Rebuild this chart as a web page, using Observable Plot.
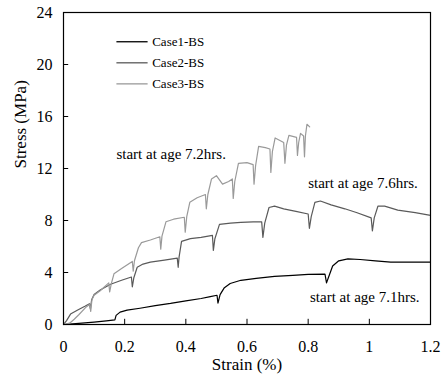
<!DOCTYPE html>
<html><head><meta charset="utf-8">
<script src="https://cdn.jsdelivr.net/npm/d3@7"></script>
<script src="https://cdn.jsdelivr.net/npm/@observablehq/plot@0.6"></script>
<style>
body{margin:0;background:#fff}
svg, svg text { font-family: "Liberation Serif", "Times New Roman", serif !important; }
</style>
</head><body><div id="chart"></div>
<script>
const xTicks = [0, 0.2, 0.4, 0.6, 0.8, 1, 1.2];
const yTicks = [0, 4, 8, 12, 16, 20, 24];
const seriesNames = ["Case1-BS", "Case2-BS", "Case3-BS"];
const seriesColors = ["#000000", "#5a5a5a", "#9a9a9a"];
const xLabel = "Strain (%)";
const yLabel = "Stress (MPa)";

// [strain %, stress MPa]
const case1 = [[0,0],[0.05,0.08],[0.10,0.18],[0.14,0.28],[0.168,0.36],[0.172,0.7],[0.185,0.95],[0.208,1.1],[0.25,1.25],[0.30,1.45],[0.35,1.62],[0.40,1.82],[0.45,2.0],[0.48,2.15],[0.502,2.25],[0.505,1.65],[0.512,2.3],[0.525,2.8],[0.545,3.15],[0.58,3.4],[0.63,3.55],[0.69,3.7],[0.75,3.78],[0.80,3.85],[0.855,3.87],[0.86,3.2],[0.866,3.6],[0.88,4.5],[0.90,4.9],[0.93,5.05],[0.97,5.0],[1.02,4.9],[1.07,4.8],[1.2,4.8]];
const case2 = [[0,0],[0.01,0.3],[0.023,0.8],[0.045,1.1],[0.07,1.4],[0.085,1.6],[0.088,1.2],[0.092,1.9],[0.1,2.3],[0.12,2.65],[0.154,3.1],[0.19,3.4],[0.222,3.65],[0.225,2.9],[0.23,3.6],[0.241,4.4],[0.26,4.65],[0.284,4.8],[0.33,4.95],[0.372,5.1],[0.375,4.4],[0.378,5.2],[0.386,6.4],[0.415,6.6],[0.45,6.7],[0.487,6.85],[0.49,5.7],[0.495,6.6],[0.51,7.7],[0.546,7.8],[0.58,7.85],[0.62,7.9],[0.648,7.9],[0.652,6.7],[0.658,7.8],[0.672,9.0],[0.69,9.1],[0.72,8.9],[0.76,8.7],[0.80,8.5],[0.804,7.4],[0.81,8.3],[0.822,9.4],[0.84,9.5],[0.875,9.2],[0.92,8.9],[0.96,8.6],[1.006,8.2],[1.01,7.2],[1.016,8.2],[1.028,9.1],[1.05,9.1],[1.093,8.8],[1.15,8.6],[1.2,8.4]];
const case3 = [[0,0],[0.02,0.1],[0.035,0.4],[0.05,0.75],[0.072,1.3],[0.086,1.55],[0.089,1.0],[0.093,1.9],[0.1,2.25],[0.12,2.6],[0.148,3.2],[0.151,2.5],[0.156,3.1],[0.165,3.9],[0.19,4.3],[0.225,4.85],[0.228,4.1],[0.232,4.9],[0.245,5.9],[0.255,6.3],[0.284,6.5],[0.315,6.75],[0.318,5.8],[0.322,6.8],[0.335,7.9],[0.36,8.1],[0.395,8.25],[0.398,7.1],[0.403,8.3],[0.413,9.4],[0.437,9.75],[0.464,10.0],[0.467,8.9],[0.472,10.0],[0.484,11.2],[0.5,11.45],[0.52,10.8],[0.54,11.0],[0.552,11.2],[0.555,9.7],[0.56,11.0],[0.572,12.4],[0.6,12.45],[0.62,12.3],[0.623,10.8],[0.628,12.2],[0.638,13.7],[0.66,13.6],[0.675,13.5],[0.678,11.7],[0.683,13.3],[0.692,14.35],[0.72,14.0],[0.724,12.4],[0.729,13.8],[0.737,14.55],[0.762,14.4],[0.765,13.0],[0.769,14.0],[0.775,14.7],[0.785,14.5],[0.788,12.9],[0.791,14.5],[0.796,15.4],[0.805,15.2]];

const notes = [
  {text: "start at age 7.2hrs.", x: 0.173, y: 13.1},
  {text: "start at age 7.6hrs.", x: 0.80, y: 10.85},
  {text: "start at age 7.1hrs.", x: 0.806, y: 2.1}
];

const rows = [];
[case1, case2, case3].forEach((arr, i) => arr.forEach(([s, t]) => rows.push({series: seriesNames[i], strain: s, stress: t})));

const legend = seriesNames.map((name, i) => ({name, y: 21.75 - i * 1.62}));

const chart = Plot.plot({
  width: 448, height: 380,
  marginLeft: 63, marginRight: 18, marginTop: 12, marginBottom: 56,
  style: {fontFamily: "'Liberation Serif', 'Times New Roman', serif", fontSize: "16px", background: "#fff", color: "#000"},
  x: {domain: [0, 1.2], axis: null},
  y: {domain: [0, 24], axis: null},
  color: {domain: seriesNames, range: seriesColors},
  marks: [
    Plot.axisX({ticks: xTicks, tickSize: 0, tickPadding: 16, tickFormat: d => String(d), label: null, fontSize: 16}),
    Plot.axisY({ticks: yTicks, tickSize: 0, tickPadding: 11, tickFormat: d => String(d), label: null, fontSize: 16}),
    Plot.ruleX(xTicks.slice(1, -1), {x: d => d, y1: 0, y2: 0.4, stroke: "#000"}),
    Plot.ruleY(yTicks.slice(1, -1), {y: d => d, x1: 0, x2: 0.017, stroke: "#000"}),
    Plot.line(rows, {x: "strain", y: "stress", z: "series", stroke: "series", strokeWidth: 1.2}),
    Plot.link(legend, {x1: 0.173, x2: 0.275, y1: "y", y2: "y", stroke: "name", strokeWidth: 1.3}),
    Plot.text(legend, {x: 0.29, y: "y", text: "name", textAnchor: "start", fontSize: 13}),
    Plot.text(notes, {x: "x", y: "y", text: "text", textAnchor: "start", fontSize: 15}),
    Plot.text([yLabel], {frameAnchor: "left", rotate: -90, dx: -43, text: d => d, fontSize: 17}),
    Plot.text([xLabel], {frameAnchor: "bottom", dy: 45, text: d => d, fontSize: 17}),
    Plot.frame({stroke: "#000", strokeWidth: 1.2})
  ]
});
document.getElementById("chart").appendChild(chart);
</script>
</body></html>
